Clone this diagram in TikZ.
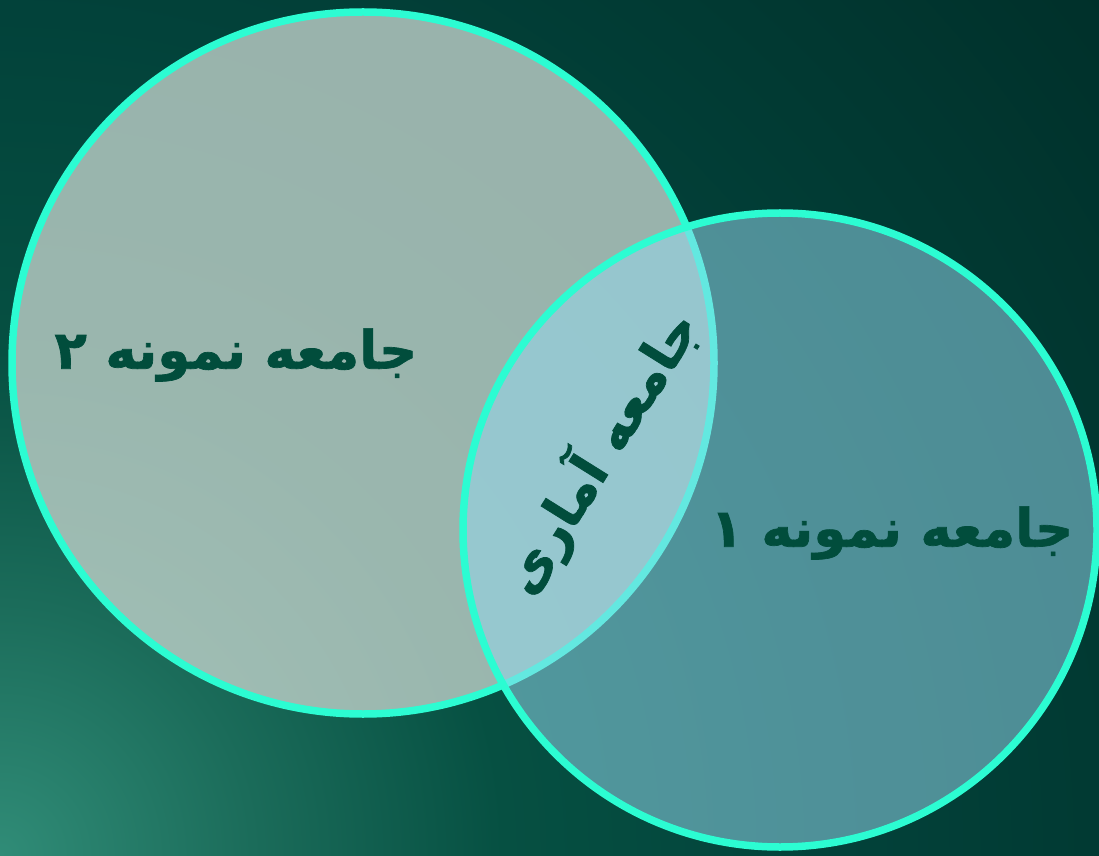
\documentclass[tikz,border=0pt]{standalone}
\usepackage{fontspec}
\newfontfamily\fa[Script=Arabic, BoldFeatures={FakeBold=1.3}]{DejaVu Sans}
\TeXXeTstate=1
\definecolor{bgA}{HTML}{308C77}
\definecolor{bgB}{HTML}{1B6C5A}
\definecolor{bgC}{HTML}{065042}
\definecolor{bgD}{HTML}{02423A}
\definecolor{bgE}{HTML}{00302A}
\definecolor{ring}{HTML}{2CFCD2}
\definecolor{leftfill}{HTML}{C4D4CD}
\definecolor{rightfill}{HTML}{94D8EE}
\definecolor{txt}{HTML}{014D3C}
\pgfdeclareradialshading{bgshade}{\pgfpoint{0bp}{0bp}}{color(0bp)=(bgA); color(4.5bp)=(bgB); color(9bp)=(bgC); color(15bp)=(bgD); color(25bp)=(bgE); color(50bp)=(bgE)}
\begin{document}
\begin{tikzpicture}[x=1pt,y=1pt,
  venn/.style={line width=7.5pt, draw=ring},
  label/.style={text=txt, font=\fa\bfseries\fontsize{53}{58}\selectfont, inner sep=0pt}]
\useasboundingbox (0,0) rectangle (1099,855);
\begin{scope}
  \clip (0,0) rectangle (1099,855);
  \shade[shading=bgshade] (0,0) circle (1400);
\end{scope}
\draw[venn, fill=leftfill, fill opacity=0.78] (363,492) circle (351);
\draw[venn, fill=rightfill, fill opacity=0.53] (780,325) circle (317);
\node[label] (s2) at (236,500) {\beginR جامعه نمونه ۲\endR};
\node[label] (s1) at (892,322) {\beginR جامعه نمونه ۱\endR};
\node[label, rotate=58] (pop) at (600,403) {\beginR جامعه آماری\endR};
\end{tikzpicture}
\end{document}
